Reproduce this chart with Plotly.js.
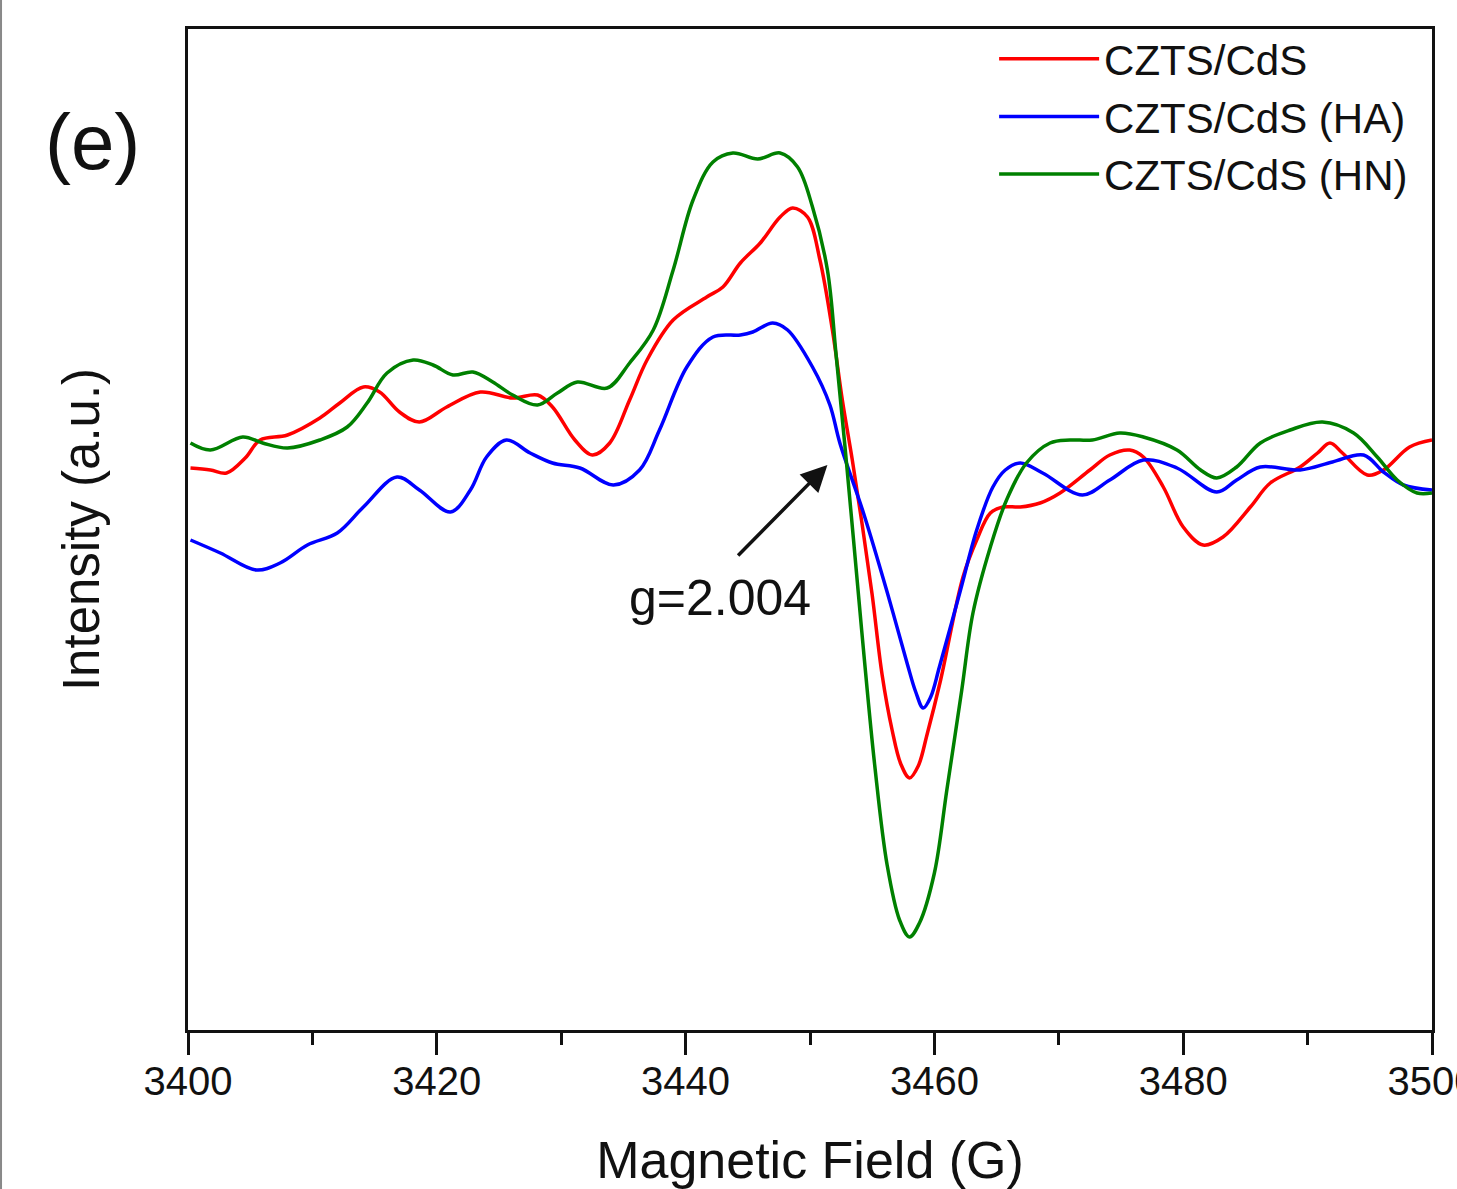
<!DOCTYPE html>
<html>
<head>
<meta charset="utf-8">
<script src="https://cdn.plot.ly/plotly-3.0.1.min.js"></script>
<style>
  html, body { margin: 0; padding: 0; background: #ffffff; }
  #chart { width: 1457px; height: 1189px; }
</style>
</head>
<body>
<div id="chart"></div>
<script>
// Magnetic field (G) and EPR intensity (a.u.)
const seriesNames = ["CZTS/CdS", "CZTS/CdS (HA)", "CZTS/CdS (HN)"];

const fieldCdS = [3400.2,3401.8,3403.1,3404.6,3405.8,3408.0,3410.6,3412.2,3414.1,3415.4,3417.0,3418.6,3420.8,3423.5,3426.1,3428.1,3429.3,3431.1,3432.5,3433.9,3435.5,3436.9,3439.0,3441.7,3443.0,3444.4,3446.0,3447.6,3448.6,3449.8,3450.8,3451.8,3452.6,3453.4,3454.2,3455.0,3455.8,3456.6,3457.3,3458.0,3458.7,3459.4,3460.5,3462.3,3463.4,3464.5,3465.5,3466.9,3468.5,3470.1,3472.5,3474.1,3475.7,3476.8,3478.4,3480.0,3481.6,3483.2,3485.4,3487.0,3489.4,3490.8,3491.8,3492.8,3494.8,3496.1,3498.2,3500.0];
const intensityCdS = [56.2,56.0,55.7,57.2,59.0,59.5,61.2,62.7,64.3,63.8,61.8,60.8,62.3,63.8,63.2,63.5,62.3,59.0,57.5,58.7,63.0,67.0,71.0,73.3,74.3,76.7,78.7,81.3,82.2,81.3,77.0,70.0,63.0,57.0,50.5,43.5,35.5,30.0,26.6,25.2,26.4,29.5,35.0,45.3,49.0,51.7,52.3,52.3,52.7,53.7,56.0,57.5,58.0,57.3,54.3,50.3,48.5,49.3,52.3,54.7,56.3,57.7,58.7,57.7,55.5,56.0,58.3,59.0];

const fieldHA = [3400.2,3402.6,3405.5,3407.4,3409.6,3412.0,3414.1,3416.8,3418.6,3421.1,3422.7,3424.0,3425.6,3427.5,3429.3,3431.5,3434.2,3436.3,3437.9,3440.1,3442.2,3444.4,3445.4,3447.0,3448.2,3450.2,3451.6,3452.4,3454.3,3456.2,3457.8,3458.5,3459.1,3459.7,3460.4,3462.1,3463.4,3464.7,3465.7,3466.9,3468.7,3471.9,3474.1,3476.8,3479.5,3482.7,3484.3,3486.2,3489.4,3492.0,3494.5,3496.1,3497.7,3500.0];
const intensityHA = [49.0,47.7,46.0,46.7,48.5,49.7,52.3,55.3,54.0,51.8,54.0,57.3,59.0,57.7,56.7,56.2,54.5,56.0,60.0,66.3,69.3,69.5,69.8,70.7,70.0,66.3,62.5,58.7,51.7,43.8,36.7,33.8,32.2,33.3,36.3,44.0,50.0,54.3,56.0,56.7,55.7,53.5,55.0,57.0,56.2,53.8,55.0,56.3,56.0,56.8,57.5,55.8,54.5,54.0];

const fieldHN = [3400.2,3401.8,3404.4,3406.0,3408.0,3410.6,3412.8,3414.4,3416.0,3418.1,3419.7,3421.3,3422.9,3424.5,3426.1,3428.1,3429.7,3431.3,3433.7,3435.5,3437.4,3439.0,3440.6,3442.2,3443.8,3445.8,3447.6,3449.0,3450.2,3451.4,3452.1,3452.8,3453.5,3454.3,3455.2,3456.2,3457.2,3458.0,3458.8,3460.0,3461.0,3462.2,3463.1,3464.5,3465.8,3467.4,3469.3,3470.9,3472.7,3474.9,3476.8,3479.5,3481.4,3482.7,3484.3,3486.2,3488.6,3491.2,3493.7,3495.6,3497.2,3498.8,3500.0];
const intensityHN = [58.7,58.0,59.3,58.7,58.2,59.0,60.3,62.7,65.7,67.0,66.5,65.5,65.8,64.8,63.5,62.5,63.7,64.8,64.2,66.7,70.0,76.0,83.0,86.8,87.7,87.1,87.7,86.3,82.3,76.0,67.5,58.5,49.0,38.0,26.5,16.5,11.0,9.3,10.7,15.7,24.0,34.0,41.7,48.3,53.0,56.7,58.7,59.0,59.0,59.7,59.3,58.0,56.0,55.2,56.3,58.7,60.0,60.8,59.7,57.3,55.0,53.7,53.7];

const xTickVals = [3400, 3420, 3440, 3460, 3480, 3500];
const xTickText = ["3400", "3420", "3440", "3460", "3480", "3500"];
const gLabel = "g=2.004";
const gArrowHead = [3451.4, 56.5];
const gArrowTail = [3444.1, 47.3];
const gLabelPos = [3442.8, 43.2];

const colors = ["#ff0000", "#0000ff", "#008000"];
const FONT = "Arial, 'Liberation Sans', sans-serif";

const traces = [
  {x: fieldCdS, y: intensityCdS, name: seriesNames[0]},
  {x: fieldHA, y: intensityHA, name: seriesNames[1]},
  {x: fieldHN, y: intensityHN, name: seriesNames[2]}
].map((t, i) => Object.assign(t, {
  type: "scatter",
  mode: "lines",
  line: {color: colors[i], width: 3.5, shape: "spline", smoothing: 1.0}
}));

const layout = {
  width: 1457,
  height: 1189,
  paper_bgcolor: "#ffffff",
  plot_bgcolor: "#ffffff",
  margin: {l: 188, r: 25, t: 29, b: 159, pad: 0},
  font: {family: FONT, color: "#111111"},
  showlegend: true,
  legend: {
    x: 0.648, y: 1.004, xanchor: "left", yanchor: "top",
    bgcolor: "rgba(0,0,0,0)",
    font: {family: FONT, size: 42, color: "#111111"},
    itemwidth: 100,
    tracegroupgap: 0
  },
  xaxis: {
    range: [3400, 3500],
    tickmode: "array",
    tickvals: xTickVals,
    ticktext: xTickText,
    ticks: "outside",
    ticklen: 22,
    tickwidth: 3,
    tickcolor: "#111111",
    ticklabeloverflow: "allow",
    ticklabelstandoff: -8,
    showline: true,
    linewidth: 3,
    linecolor: "#111111",
    mirror: true,
    showgrid: false,
    zeroline: false,
    tickfont: {family: FONT, size: 40, color: "#111111"},
    minor: {dtick: 10, ticks: "outside", ticklen: 12, tickwidth: 3, tickcolor: "#111111", showgrid: false},
    title: {text: "Magnetic Field (G)", font: {family: FONT, size: 52, color: "#111111"}, standoff: 48}
  },
  yaxis: {
    range: [0, 100.1],
    showticklabels: false,
    ticks: "",
    showline: true,
    linewidth: 3,
    linecolor: "#111111",
    mirror: true,
    showgrid: false,
    zeroline: false,
    title: {text: "Intensity (a.u.)", font: {family: FONT, size: 51, color: "#111111"}, standoff: 70}
  },
  shapes: [
    {type: "line", xref: "paper", yref: "paper", x0: -0.1503, x1: -0.1503, y0: -0.159, y1: 1.029,
     line: {color: "#888888", width: 2}}
  ],
  annotations: [
    {
      x: gArrowHead[0], y: gArrowHead[1], xref: "x", yref: "y",
      ax: gArrowTail[0], ay: gArrowTail[1], axref: "x", ayref: "y",
      text: "", showarrow: true, arrowhead: 2, arrowsize: 1.5, arrowwidth: 3.5, arrowcolor: "#111111"
    },
    {
      x: gLabelPos[0], y: gLabelPos[1], xref: "x", yref: "y",
      text: gLabel, showarrow: false,
      font: {family: FONT, size: 50, color: "#111111"}
    },
    {
      x: -0.077, y: 0.887, xref: "paper", yref: "paper",
      xanchor: "center", yanchor: "middle",
      text: "(e)", showarrow: false,
      font: {family: FONT, size: 78, color: "#111111"}
    }
  ]
};

Plotly.newPlot("chart", traces, layout, {staticPlot: true, displayModeBar: false});
</script>
</body>
</html>
